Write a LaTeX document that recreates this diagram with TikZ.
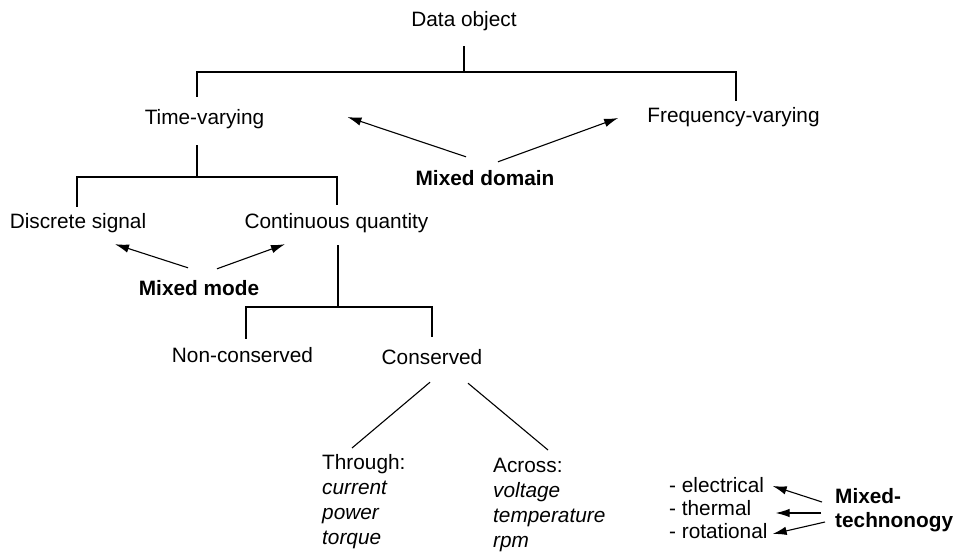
\documentclass[tikz,border=0pt]{standalone}
\usepackage{fontspec}
\setmainfont{Liberation Sans}
\usetikzlibrary{arrows.meta}
\begin{document}
\begin{tikzpicture}[x=1pt,y=-1pt,
  font=\fontsize{20.8}{25}\selectfont,
  lbl/.style={inner sep=0pt, text height=16pt, text depth=5pt, anchor=base},
  multi/.style={inner sep=0pt, anchor=north west, align=left},
  ln/.style={line width=1.1pt},
  arr/.style={line width=1.1pt, -{Latex[length=14pt,width=8.5pt]}}]
\useasboundingbox (0,0) rectangle (960,553);
% nodes
\node[lbl] (data) at (464,27) {Data object};
\node[lbl] (tv) at (204.5,125) {Time-varying};
\node[lbl] (fv) at (733.5,123) {Frequency-varying};
\node[lbl, font=\fontsize{20.8}{25}\selectfont\bfseries] (md) at (485,186) {Mixed domain};
\node[lbl] (ds) at (78,229) {Discrete signal};
\node[lbl] (cq) at (336.5,229) {Continuous quantity};
\node[lbl, font=\fontsize{20.8}{25}\selectfont\bfseries] (mm) at (199,295) {Mixed mode};
\node[lbl] (nc) at (242.5,362) {Non-conserved};
\node[lbl] (cs) at (432,364) {Conserved};
\node[multi, font=\fontsize{20.8}{25}\selectfont] (th) at (322,454) {Through:\\\textit{current}\\\textit{power}\\\textit{torque}};
\node[multi, font=\fontsize{20.8}{25}\selectfont] (ac) at (493,458) {Across:\\\textit{voltage}\\\textit{temperature}\\\textit{rpm}};
\node[multi, font=\fontsize{20.8}{23}\selectfont] (tl) at (669,477) {- electrical\\- thermal\\- rotational};
\node[multi, font=\fontsize{20.8}{24}\selectfont\bfseries] (mt) at (835,488) {Mixed-\\technonogy};
% junctions
\coordinate (b1) at (464,72);
\coordinate (b2) at (197,177);
\coordinate (b3) at (338,307);
% tree
\draw[ln] ([yshift=-14pt]data.south) -- (b1);
\draw[ln] ([xshift=-7.5pt,yshift=12pt]tv.north) |- (b1) -| ([xshift=2.5pt,yshift=6pt]fv.north);
\draw[ln] ([xshift=-7.5pt,yshift=-15pt]tv.south) -- (b2);
\draw[ln] ([xshift=-1pt,yshift=6pt]ds.north) |- (b2) -| ([xshift=0.5pt,yshift=8pt]cq.north);
\draw[ln] ([xshift=1.5pt,yshift=-11pt]cq.south) -- (b3);
\draw[ln] ([xshift=3.5pt,yshift=7pt]nc.north) |- (b3) -| ([yshift=11pt]cs.north);
\draw[ln] ([xshift=-2pt,yshift=-13pt]cs.south) -- ([xshift=30pt,yshift=6pt]th.north west);
\draw[ln] ([xshift=36pt,yshift=-14pt]cs.south) -- ([xshift=55pt,yshift=8pt]ac.north west);
% mixed mode arrows
\draw[arr] ([xshift=-11pt,yshift=11pt]mm.north) -- ([xshift=37pt,yshift=-10pt]ds.south);
\draw[arr] ([xshift=18pt,yshift=10pt]mm.north) -- ([xshift=-51.5pt,yshift=-10pt]cq.south);
% mixed domain arrows
\draw[arr] ([xshift=-19pt,yshift=13pt]md.north) -- ([xshift=83pt,yshift=2.5pt]tv.east);
\draw[arr] ([xshift=13pt,yshift=8pt]md.north) -- ([xshift=-29pt,yshift=-0.5pt]fv.west);
% mixed technology arrows
\draw[arr] ([xshift=-13pt,yshift=-14pt]mt.north west) -- ([xshift=5pt,yshift=-9pt]tl.north east);
\draw[arr] ([xshift=-14pt,yshift=-25pt]mt.north west) -- ([xshift=8pt,yshift=-36pt]tl.north east);
\draw[arr] ([xshift=-10pt,yshift=-34pt]mt.north west) -- ([xshift=5pt,yshift=-57pt]tl.north east);
\end{tikzpicture}
\end{document}
